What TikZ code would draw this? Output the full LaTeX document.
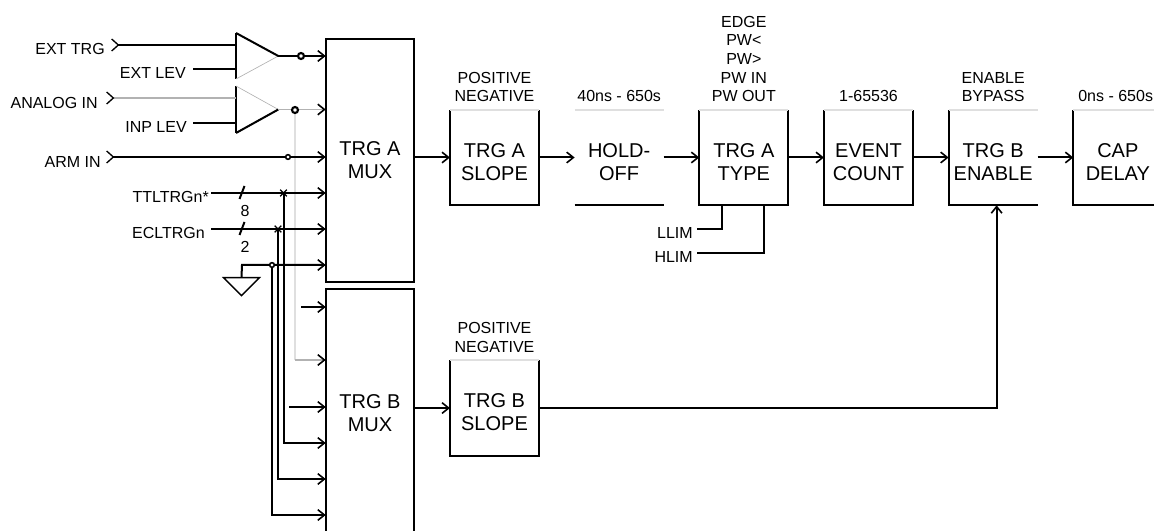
\documentclass[tikz,border=0pt]{standalone}
\usepackage{fontspec}
\setmainfont{Liberation Sans}
\usetikzlibrary{
  arrows.meta,
  positioning,
  shapes.geometric,
  shapes.misc
}

\begin{document}
\begin{tikzpicture}[
    x=0.75pt,
    y=-0.75pt,
    >={Straight Barb[length=5pt,width=8pt,line width=1.2pt]},
    node distance=26.7pt,
    bloco/.style={
        minimum width=66.4pt,
        minimum height=71.25pt,
        inner sep=0pt,
        align=center,
        font=\fontsize{15}{17.25}\selectfont,
        execute at begin node={\rule{0pt}{34pt}}
    },
    mux/.style={
        minimum width=66pt,
        inner sep=0pt,
        align=center,
        font=\fontsize{15}{17.25}\selectfont
    },
    sinal/.style={
        inner sep=0pt,
        anchor=east,
        font=\fontsize{12}{14}\selectfont
    },
    modo/.style={
        inner sep=0pt,
        align=center,
        font=\fontsize{12}{14}\selectfont
    },
    amp/.style={
        isosceles triangle,
        isosceles triangle stretches,
        minimum width=34.5pt,
        minimum height=31pt,
        inner sep=0pt,
        anchor=lower side
    },
    fio/.style={
        line width=1.5pt
    },
    fiofino/.style={
        line width=0.8pt
    },
    cinza/.style={
        line width=0.8pt,
        gray!60
    },
    cinzaclaro/.style={
        line width=1.5pt,
        gray!25
    },
    seta/.style={
        -{Straight Barb[length=5pt,width=8pt,line width=1.2pt,color=black]}
    },
    porta/.style={
        {Straight Barb[reversed,length=5pt,width=9pt,line width=1pt,color=black]}-
    },
    portaseta/.style={
        {Straight Barb[reversed,length=5pt,width=9pt,line width=1pt,color=black]}-{Straight Barb[length=5pt,width=8pt,line width=1.2pt,color=black]}
    },
    juncao/.style={
        circle,
        draw,
        fill=white,
        line width=1.6pt,
        minimum size=4.5pt,
        inner sep=0pt
    },
    cruz/.style={
        cross out,
        draw,
        line width=1pt,
        minimum size=4pt,
        inner sep=0pt
    }
]

\useasboundingbox (0,0) rectangle (1154,531);
\clip (0,0) rectangle (1154,531);

% ============================================================
% BLOCOS
% ============================================================

\node[mux, minimum height=182.25pt] (amux) at (370,160.5) {TRG A\\MUX};
\node[mux, minimum height=186pt] (bmux) at (370,413) {TRG B\\MUX};

\node[bloco] (aslope) at (494.5,157.5) {TRG A\\SLOPE};
\node[bloco, right=of aslope] (holdoff) {HOLD-\\OFF};
\node[bloco, right=of holdoff] (atype) {TRG A\\TYPE};
\node[bloco, right=of atype] (count) {EVENT\\COUNT};
\node[bloco, right=of count] (benable) {TRG B\\ENABLE};
\node[bloco, right=of benable] (capdelay) {CAP\\DELAY};
\node[bloco, below=116.25pt of aslope] (bslope) {TRG B\\SLOPE};

\node[amp] (amp1) at (236,56) {};
\node[amp] (amp2) at (236,109.5) {};

% ============================================================
% BORDAS
% ============================================================

\draw[fio] (amux.south west) rectangle (amux.north east);
\draw[fio] (bmux.south west) -- (bmux.north west) -- (bmux.north east) -- (bmux.south east);

\draw[fio] (aslope.north west) -- (aslope.south west) -- (aslope.south east) -- (aslope.north east);
\draw[cinzaclaro] (aslope.north west) -- (aslope.north east);
\draw[fio] (holdoff.south west) -- (holdoff.south east);
\draw[cinzaclaro] (holdoff.north west) -- (holdoff.north east);
\draw[fio] (atype.north west) -- (atype.south west) -- (atype.south east) -- (atype.north east);
\draw[cinzaclaro] (atype.north west) -- (atype.north east);
\draw[fio] (count.north west) -- (count.south west) -- (count.south east) -- (count.north east);
\draw[cinzaclaro] (count.north west) -- (count.north east);
\draw[fio] (benable.north west) -- (benable.south west) -- (benable.south east);
\draw[cinzaclaro] (benable.north west) -- (benable.north east);
\draw[fio] (capdelay.north west) -- (capdelay.south west) -- (capdelay.south east);
\draw[cinzaclaro] (capdelay.north west) -- (capdelay.north east);
\draw[fio] (bslope.north west) -- (bslope.south west) -- (bslope.south east) -- (bslope.north east);
\draw[cinzaclaro] (bslope.north west) -- (bslope.north east);

\draw[fio] (amp1.lower side |- 0,33) -- (amp1.lower side |- 0,79);
\draw[cinza, line width=0.5pt] (amp1.lower side |- 0,79) -- (amp1.apex);
\draw[fio] (amp1.lower side |- 0,33) -- (amp1.apex);
\draw[fio] (amp2.lower side |- 0,86) -- (amp2.lower side |- 0,133);
\draw[cinza, line width=0.5pt] (amp2.lower side |- 0,86) -- (amp2.apex);
\draw[fio] (amp2.lower side |- 0,133) -- (amp2.apex);

% ============================================================
% MODOS
% ============================================================

\node[modo, above=5.5pt of aslope] (aslopemodo) {POSITIVE\\NEGATIVE};
\node[modo, above=5.5pt of holdoff] (holdoffmodo) {40ns - 650s};
\node[modo, above=5.5pt of atype] (atypemodo) {EDGE\\PW<\\PW>\\PW IN\\PW OUT};
\node[modo, above=5.5pt of count] (countmodo) {1-65536};
\node[modo, above=5.5pt of benable] (benablemodo) {ENABLE\\BYPASS};
\node[modo, above=5.5pt of capdelay, xshift=-1.6pt] (capdelaymodo) {0ns - 650s};
\node[modo, above=5.5pt of bslope] (bslopemodo) {POSITIVE\\NEGATIVE};

% ============================================================
% ENTRADAS
% ============================================================

\node[sinal] (exttrg) at (105,49) {EXT TRG};
\node[sinal] (extlev) at (186,73) {EXT LEV};
\node[sinal] (analog) at (98,103) {ANALOG IN};
\node[sinal] (inplev) at (187,127) {INP LEV};
\node[sinal] (armin) at (101,162) {ARM IN};
\node[sinal] (ttl) at (209,197) {TTLTRGn*};
\node[sinal] (ecl) at (205,233) {ECLTRGn};
\node[sinal] (llim) at (693,233) {LLIM};
\node[sinal] (hlim) at (693,257) {HLIM};

\coordinate (exttrgp) at (111,45);
\coordinate (extlevp) at (193,69);
\coordinate (analogp) at (106,98);
\coordinate (inplevp) at (193,123);
\coordinate (arminp) at (106,157);
\coordinate (ttlp) at (211,193);
\coordinate (eclp) at (211,229);
\coordinate (llimp) at (697,229);
\coordinate (hlimp) at (697,253);

\coordinate (terra) at (242,265);
\coordinate (ramo1) at (301,56);
\coordinate (ramo2) at (295,110);
\coordinate (ramo3) at (288,157);
\coordinate (ramo4) at (283.5,193);
\coordinate (ramo5) at (278,229);
\coordinate (ramo6) at (272,265);

% terra
\node[isosceles triangle, isosceles triangle stretches, shape border rotate=-90,
      draw, line width=1pt, minimum width=27pt, minimum height=13.5pt, inner sep=0pt,
      anchor=lower side] (gnd) at (241.5,277) {};

% ============================================================
% FIOS
% ============================================================

\draw[cinzaclaro] (ramo2) |- (295,360);
\draw[cinza, seta] (295,360) -- (bmux.west |- 295,360);

\draw[porta, fio] (exttrgp) -- (amp1.lower side |- exttrgp);
\draw[fio] (extlevp) -- (amp1.lower side |- extlevp);
\draw[porta, cinza] (analogp) -- (amp2.lower side |- analogp);
\draw[fiofino] (inplevp) -- (amp2.lower side |- inplevp);

\draw[fio, seta] (amp1.apex) -- (amux.west |- amp1.apex);
\draw[cinza, seta] (amp2.apex) -- (amux.west |- amp2.apex);
\draw[portaseta, fio] (arminp) -- (amux.west |- arminp);
\draw[fio, seta] (ttlp) -- (amux.west |- ttlp);
\draw[fio, seta] (eclp) -- (amux.west |- eclp);
\draw[fio, seta] (gnd.lower side) -- (terra) -- (amux.west |- terra);

\draw[fio] (242,193) ++(-2.5,6) -- ++(5,-13);
\draw[fio] (242,229) ++(-2.5,6) -- ++(5,-13);
\node[modo] (ttlbits) at (245,211) {8};
\node[modo] (eclbits) at (245,247) {2};

% ramos para o TRG B MUX
\draw[fio, seta] (301,307) -- (bmux.west |- 301,307);
\draw[fio, seta] (289,407) -- (bmux.west |- 289,407);
\draw[fio, seta] (ramo4) |- (bmux.west |- 0,443);
\draw[fio, seta] (ramo5) |- (bmux.west |- 0,479);
\draw[fio, seta] (ramo6) |- (bmux.west |- 0,515);

\node[juncao] (j1) at (ramo1) {};
\node[juncao] (j2) at (ramo2) {};
\node[juncao, line width=1.2pt, minimum size=3.5pt] (j3) at (ramo3) {};
\node[cruz] (j4) at (ramo4) {};
\node[cruz] (j5) at (ramo5) {};
\node[juncao, line width=1.2pt, minimum size=3.5pt] (j6) at (ramo6) {};

% ============================================================
% FLUXO
% ============================================================

\draw[fio, seta] (amux.east |- aslope.west) -- (aslope.west);
\draw[fio, seta] (aslope.east) -- (holdoff.west);
\draw[fio, seta] (holdoff.east) -- (atype.west);
\draw[fio, seta] (atype.east) -- (count.west);
\draw[fio, seta] (count.east) -- (benable.west);
\draw[fio, seta] (benable.east) -- (capdelay.west);
\draw[fio, seta] (amux.east |- bslope.west) -- (bslope.west);
\draw[fio, seta] (bslope.east) -| ([xshift=2.6pt]benable.south);

\draw[fio] (llimp) -| ([xshift=-16.7pt]atype.south);
\draw[fio] (hlimp) -| ([xshift=15pt]atype.south);

\end{tikzpicture}
\end{document}
